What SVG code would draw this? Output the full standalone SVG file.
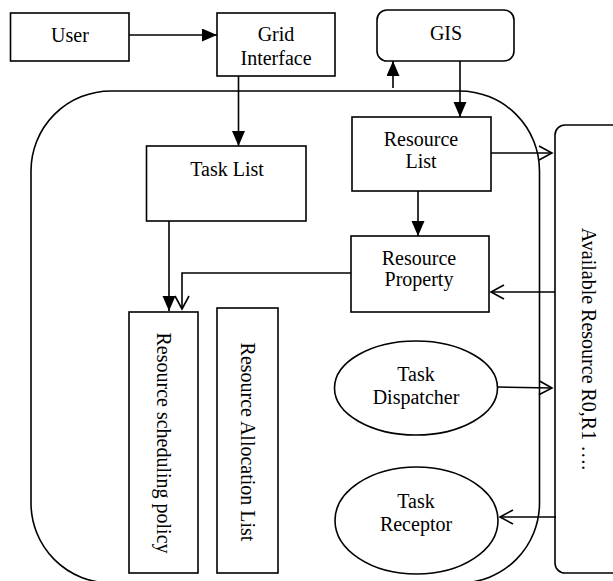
<svg xmlns="http://www.w3.org/2000/svg" width="613" height="581" viewBox="0 0 613 581">
<style>
.box{fill:#fff;stroke:#000;stroke-width:1.6}
.line{fill:none;stroke:#000;stroke-width:1.6}
text{font-family:"Liberation Serif","Times New Roman",serif;font-size:20px;fill:#000;text-anchor:middle}
</style>
<defs>
<marker id="fa" markerUnits="userSpaceOnUse" markerWidth="16" markerHeight="14" refX="15" refY="6.5" orient="auto"><path d="M0,0 L15,6.5 L0,13 z" fill="#000"/></marker>
<marker id="oa" markerUnits="userSpaceOnUse" markerWidth="16" markerHeight="18" refX="14" refY="8" orient="auto"><path d="M1,1 L14,8 L1,15" fill="none" stroke="#000" stroke-width="1.6"/></marker>
</defs>
<g id="container"><rect class="box" x="31" y="91" width="508.5" height="492" rx="80" ry="80" fill="none"/></g>
<g id="user"><rect class="box" x="10.5" y="13" width="118.5" height="48"/><text x="70" y="42">User</text></g>
<g id="grid"><rect class="box" x="217" y="13" width="118" height="63"/><text x="276" y="41">Grid</text><text x="276" y="65">Interface</text></g>
<g id="gis"><rect class="box" x="377" y="10" width="137" height="51" rx="10"/><text x="446" y="40">GIS</text></g>
<g id="tasklist"><rect class="box" x="146.5" y="146" width="159.5" height="75"/><text x="227" y="176">Task List</text></g>
<g id="reslist"><rect class="box" x="352" y="117" width="139" height="74"/><text x="421" y="146">Resource</text><text x="421" y="168">List</text></g>
<g id="resprop"><rect class="box" x="351" y="236" width="138" height="76"/><text x="419" y="265">Resource</text><text x="419" y="286">Property</text></g>
<g id="sched"><rect class="box" x="129" y="312" width="69" height="261"/><text transform="translate(163.5,443) rotate(90)" y="6.5">Resource scheduling policy</text></g>
<g id="alloc"><rect class="box" x="217" y="308" width="61" height="265"/><text transform="translate(247.5,442) rotate(90)" y="6.5">Resource Allocation List</text></g>
<g id="dispatcher"><ellipse class="box" cx="416" cy="388" rx="81.5" ry="47"/><text x="416" y="381">Task</text><text x="416" y="404">Dispatcher</text></g>
<g id="receptor"><ellipse class="box" cx="416.5" cy="520.5" rx="81.5" ry="53.5"/><text x="416" y="508">Task</text><text x="416" y="531">Receptor</text></g>
<g id="available"><rect class="box" x="555" y="125" width="80" height="448" rx="10"/><text transform="translate(588,349) rotate(90)" y="6.5">Available Resource R0,R1 ….</text></g>
<g id="connectors">
<line class="line" x1="129" y1="35" x2="217" y2="35" marker-end="url(#fa)"/>
<line class="line" x1="238.5" y1="76" x2="238.5" y2="146" marker-end="url(#fa)"/>
<line class="line" x1="393" y1="88" x2="393" y2="61" marker-end="url(#fa)"/>
<line class="line" x1="460" y1="61" x2="460" y2="117" marker-end="url(#fa)"/>
<line class="line" x1="418" y1="191" x2="418" y2="236" marker-end="url(#fa)"/>
<line class="line" x1="169" y1="221" x2="169" y2="311" marker-end="url(#fa)"/>
<line class="line" x1="491" y1="153" x2="552" y2="153" marker-end="url(#oa)"/>
<line class="line" x1="555" y1="292" x2="491" y2="292" marker-end="url(#oa)"/>
<polyline class="line" points="351,273 182,273 182,309" marker-end="url(#oa)"/>
<line class="line" x1="497" y1="387" x2="552" y2="388" marker-end="url(#oa)"/>
<line class="line" x1="556" y1="517" x2="500" y2="517" marker-end="url(#oa)"/>
</g>
</svg>
